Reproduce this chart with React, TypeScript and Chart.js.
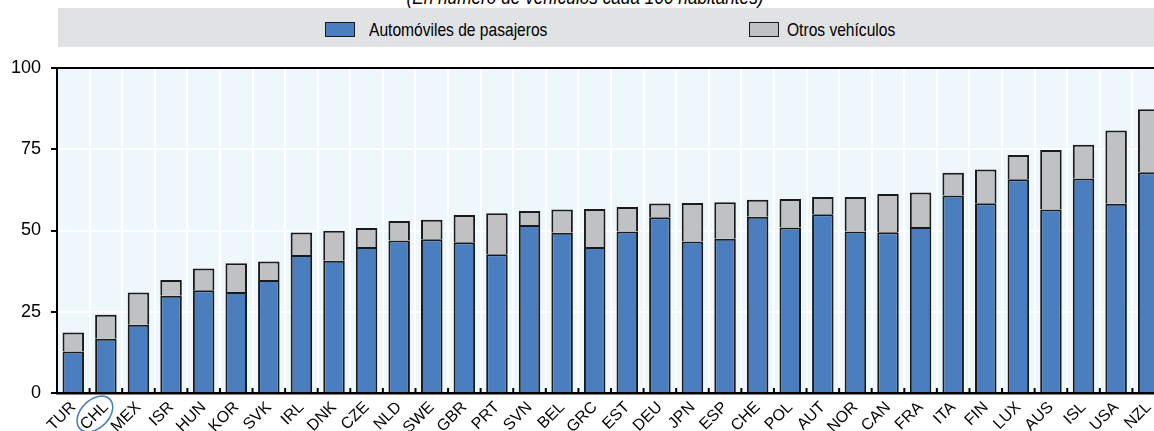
import React, { useEffect, useRef } from "react";
import { Chart, registerables } from "chart.js";

Chart.register(...registerables);

const countries = ["TUR", "CHL", "MEX", "ISR", "HUN", "KOR", "SVK", "IRL", "DNK", "CZE", "NLD", "SWE", "GBR", "PRT", "SVN", "BEL", "GRC", "EST", "DEU", "JPN", "ESP", "CHE", "POL", "AUT", "NOR", "CAN", "FRA", "ITA", "FIN", "LUX", "AUS", "ISL", "USA", "NZL"];

const passengerCars = [12.8, 16.7, 21.0, 29.9, 31.6, 31.1, 34.8, 42.5, 40.7, 44.9, 46.9, 47.3, 46.4, 42.7, 51.7, 49.3, 44.9, 49.7, 54.1, 46.6, 47.5, 54.2, 50.9, 55.0, 49.7, 49.5, 51.1, 60.8, 58.4, 65.8, 56.5, 66.0, 58.2, 67.9];

const otherVehicles = [5.8, 7.4, 9.9, 4.9, 6.7, 8.8, 5.7, 6.9, 9.2, 5.9, 6.0, 6.0, 8.4, 12.6, 4.3, 7.2, 11.7, 7.5, 4.2, 11.9, 11.2, 5.3, 8.8, 5.3, 10.6, 11.7, 10.6, 7.0, 10.4, 7.4, 18.3, 10.4, 22.6, 19.4];

const yTicks = [0, 25, 50, 75, 100];
const seriesNames = ["Automóviles de pasajeros", "Otros vehículos"];
const titleText = "(En número de vehículos cada 100 habitantes)";
const highlighted = "CHL";

const BLUE = "#4a7ebf";
const GRAY = "#c0c1c3";
const EDGE = "#1a1a1a";
const FONT = "'Liberation Sans', Arial, sans-serif";

const bgPlugin = {
  id: "plotBg",
  beforeDraw(chart: any) {
    const { ctx, chartArea } = chart;
    ctx.save();
    ctx.fillStyle = "#eef7fb";
    ctx.fillRect(chartArea.left, chartArea.top, chartArea.right - chartArea.left, chartArea.bottom - chartArea.top);
    ctx.restore();
  },
};

const innerTicksPlugin = {
  id: "innerTicks",
  afterDatasetsDraw(chart: any) {
    const { ctx, chartArea } = chart;
    const xs = chart.scales.x;
    ctx.save();
    ctx.strokeStyle = "#000";
    ctx.lineWidth = 2;
    for (let i = 1; i < countries.length; i++) {
      const x = (xs.getPixelForTick(i - 1) + xs.getPixelForTick(i)) / 2;
      ctx.beginPath();
      ctx.moveTo(x, chartArea.bottom - 5);
      ctx.lineTo(x, chartArea.bottom);
      ctx.stroke();
    }
    ctx.restore();
  },
};

const circlePlugin = {
  id: "circleLabel",
  afterDraw(chart: any) {
    const { ctx, chartArea } = chart;
    const xs = chart.scales.x;
    const idx = countries.indexOf(highlighted);
    const x = xs.getPixelForTick(idx);
    ctx.save();
    ctx.strokeStyle = BLUE;
    ctx.lineWidth = 1.5;
    ctx.beginPath();
    ctx.ellipse(x - 11, chartArea.bottom + 21, 21, 14, -Math.PI / 4, 0, Math.PI * 2);
    ctx.stroke();
    ctx.restore();
  },
};

export default function App() {
  const ref = useRef<HTMLCanvasElement | null>(null);

  useEffect(() => {
    const canvas = ref.current;
    if (!canvas) return;
    const chart = new Chart(canvas, {
      type: "bar",
      data: {
        labels: countries,
        datasets: [
          {
            label: seriesNames[0],
            data: passengerCars,
            backgroundColor: BLUE,
            borderColor: EDGE,
            borderWidth: 2,
            barPercentage: 0.66,
            categoryPercentage: 1,
          },
          {
            label: seriesNames[1],
            data: otherVehicles,
            backgroundColor: GRAY,
            borderColor: EDGE,
            borderWidth: 2,
            barPercentage: 0.66,
            categoryPercentage: 1,
          },
        ],
      },
      options: {
        responsive: false,
        animation: false,
        layout: { padding: { top: 18, right: 15, left: 0, bottom: 0 } },
        plugins: {
          legend: { display: false },
          tooltip: { enabled: false },
          title: { display: false },
        },
        scales: {
          x: {
            stacked: true,
            offset: true,
            grid: { color: "#ffffff", lineWidth: 2, drawTicks: false, offset: true },
            border: { color: "#000", width: 2.5 },
            ticks: {
              minRotation: 45,
              maxRotation: 45,
              autoSkip: false,
              color: "#000",
              font: { family: FONT, size: 16 },
              padding: 5,
            },
            afterFit: (s: any) => {
              s.height = 38;
              s.paddingLeft = 0;
              s.paddingRight = 0;
            },
          },
          y: {
            stacked: true,
            min: 0,
            max: 100,
            afterBuildTicks: (s: any) => {
              s.ticks = yTicks.map((v) => ({ value: v }));
            },
            ticks: {
              color: "#000",
              font: { family: FONT, size: 18 },
              padding: 10,
            },
            grid: {
              color: (c: any) => (c.tick && c.tick.value === 100 ? "#000" : "#ffffff"),
              lineWidth: 2,
              tickColor: "#000",
              tickLength: 6,
              tickWidth: 2,
            },
            border: { color: "#000", width: 2 },
            afterFit: (s: any) => {
              s.width = 57;
              s.paddingTop = 0;
              s.paddingBottom = 0;
            },
          },
        },
      },
      plugins: [bgPlugin, innerTicksPlugin, circlePlugin],
    });
    return () => chart.destroy();
  }, []);

  const legendText: React.CSSProperties = {
    position: "absolute",
    top: 2,
    lineHeight: "39px",
    fontFamily: FONT,
    fontSize: 19,
    color: "#000",
    whiteSpace: "nowrap",
    transformOrigin: "0 0",
    transform: "scaleX(0.82)",
  };
  const swatch: React.CSSProperties = {
    position: "absolute",
    top: 14,
    width: 30,
    height: 15,
    boxSizing: "border-box",
    border: "1px solid #1a1a1a",
  };

  return (
    <div style={{ position: "fixed", left: 0, top: 0, width: 1154, height: 431, overflow: "hidden", background: "#fff" }}>
      <span
        style={{
          position: "absolute",
          left: 585,
          top: -14,
          fontFamily: FONT,
          fontStyle: "italic",
          fontSize: 21,
          lineHeight: "21px",
          whiteSpace: "nowrap",
          transformOrigin: "0 0",
          transform: "scaleX(0.82) translateX(-50%)",
        }}
      >
        {titleText}
      </span>
      <div style={{ position: "absolute", left: 58, top: 8, width: 1120, height: 39, background: "#e1e2e4" }}>
        <div style={{ ...swatch, left: 267, background: BLUE }} />
        <span style={{ ...legendText, left: 311 }}>{seriesNames[0]}</span>
        <div style={{ ...swatch, left: 691, background: GRAY }} />
        <span style={{ ...legendText, left: 729 }}>{seriesNames[1]}</span>
      </div>
      <canvas ref={ref} width={1180} height={381} style={{ position: "absolute", left: 0, top: 50, width: 1180, height: 381 }} />
    </div>
  );
}
